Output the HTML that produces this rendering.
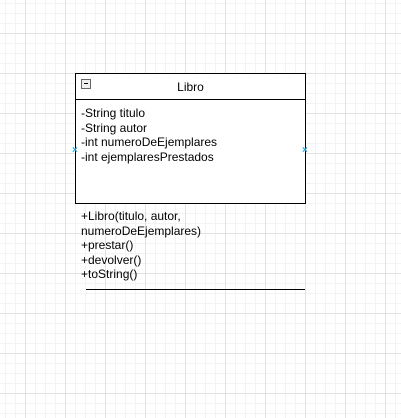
<!DOCTYPE html>
<html><head><style>
html,body{margin:0;padding:0}
body{width:401px;height:418px;position:relative;overflow:hidden;background:#fff;
background-image:
linear-gradient(to right,#e2e2e2 1px,transparent 1px),
linear-gradient(to bottom,#e2e2e2 1px,transparent 1px),
linear-gradient(to right,#f3f3f3 1px,transparent 1px),
linear-gradient(to bottom,#f3f3f3 1px,transparent 1px);
background-size:40px 40px,40px 40px,10px 10px,10px 10px;
background-position:25px 0,0 33px,5px 0,0 3px;
font-family:"Liberation Sans",Arial,sans-serif;font-size:12px;color:#000}
.box{position:absolute;left:75px;top:73px;width:229px;height:129px;border:1px solid #000;background:#fff}
.hdr{position:absolute;left:0;top:0;width:229px;height:25px;border-bottom:1px solid #000;text-align:center;line-height:26px}
.min{position:absolute;left:5px;top:5px;width:8px;height:8px;border:1px solid #666;background:#eee}
.min:after{content:"";position:absolute;left:2px;top:3px;width:4px;height:1px;background:#000}
.t{position:absolute;left:81px;line-height:14.5px;white-space:nowrap}
.x{position:absolute;color:#29a8e0;font-size:10px;line-height:10px;font-weight:bold}
</style></head><body>
<div class="box"><div class="hdr">Libro<div class="min"></div></div></div>
<div class="t" style="top:106px">-String titulo<br>-String autor<br>-int numeroDeEjemplares<br>-int ejemplaresPrestados</div>
<div class="t" style="top:209px">+Libro(titulo, autor,<br>numeroDeEjemplares)<br>+prestar()<br>+devolver()<br>+toString()</div>
<div style="position:absolute;left:86px;top:289px;width:219px;height:1px;background:#000"></div>
<div class="x" style="left:72px;top:146px">×</div>
<div class="x" style="left:302px;top:146px">×</div>
</body></html>
